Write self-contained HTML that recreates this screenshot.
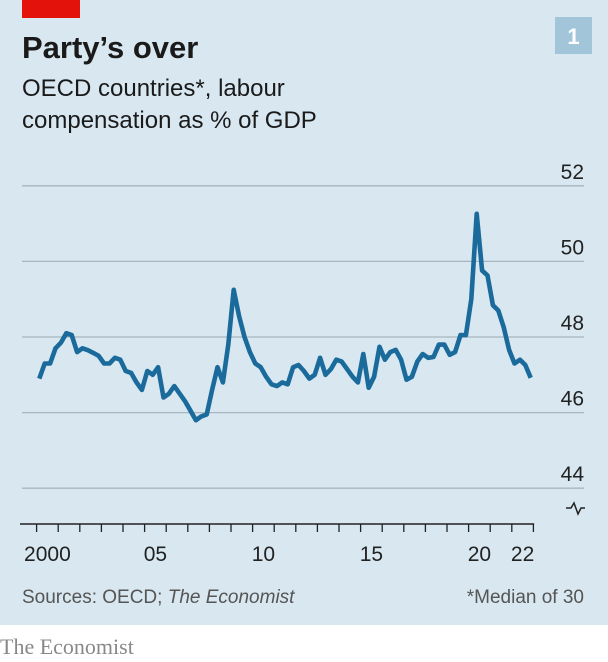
<!DOCTYPE html>
<html><head><meta charset="utf-8">
<style>
html,body{margin:0;padding:0;}
body{width:608px;height:662px;background:#fff;position:relative;overflow:hidden;font-family:"Liberation Sans",sans-serif;}
#panel{position:absolute;left:0;top:0;width:608px;height:625px;background:#d8e7f0;}
</style></head>
<body>
<div id="panel"></div>
<svg id="chart" width="608" height="662" style="position:absolute;left:0;top:0">
  <rect x="22" y="0" width="58" height="18" fill="#e3120b"/>
  <rect x="555" y="17" width="37" height="37" fill="#a3c5da"/>
  <text x="573.5" y="44" text-anchor="middle" font-size="22" font-weight="bold" fill="#fff">1</text>
  <text x="22" y="58" font-size="31" font-weight="bold" fill="#1a1a1a">Party’s over</text>
  <text x="22" y="96" font-size="24" fill="#1a1a1a">OECD countries*, labour</text>
  <text x="22" y="128" font-size="24" fill="#1a1a1a">compensation as % of GDP</text>
  <g id="grid"></g>
  <g id="xaxis"></g>
  <g id="series"></g>
  <path d="M566,508 L571,508 L574,503 L578,514 L581,508 L585,508" fill="none" stroke="#222" stroke-width="1.5"/>
  <text x="22" y="603" font-size="19" fill="#555">Sources: OECD; <tspan font-style="italic">The Economist</tspan></text>
  <text x="584" y="603" text-anchor="end" font-size="19" fill="#555">*Median of 30</text>
  <text x="0" y="654" font-family="Liberation Serif,serif" font-size="22" fill="#888">The Economist</text>
</svg>
<script>
const yTicks = [44, 46, 48, 50, 52];
const xTickYears = [2000,2001,2002,2003,2004,2005,2006,2007,2008,2009,2010,2011,2012,2013,2014,2015,2016,2017,2018,2019,2020,2021,2022,2023];
const xLabelYears = [2000, 2005, 2010, 2015, 2020, 2022];
const xLabels = ["2000", "05", "10", "15", "20", "22"];
const startYear = 2000;
const values = [46.9,47.3,47.3,47.7,47.85,48.1,48.05,47.6,47.7,47.65,47.58,47.5,47.3,47.3,47.45,47.4,47.1,47.05,46.8,46.6,47.1,47.0,47.2,46.4,46.5,46.7,46.5,46.3,46.05,45.8,45.9,45.95,46.6,47.2,46.8,47.8,49.25,48.55,48.0,47.6,47.3,47.2,46.95,46.75,46.7,46.8,46.75,47.2,47.26,47.1,46.9,47.0,47.45,47.0,47.15,47.4,47.35,47.15,46.95,46.8,47.55,46.66,46.95,47.74,47.4,47.6,47.66,47.4,46.87,46.95,47.35,47.55,47.45,47.47,47.8,47.8,47.53,47.6,48.05,48.05,49.0,51.26,49.76,49.63,48.84,48.7,48.26,47.66,47.3,47.4,47.26,46.92];

const NS = "http://www.w3.org/2000/svg";
function xScale(yr){ return 36.6 + (yr - 2000) * 21.6; }
function yScale(v){ return 337 - (v - 48) * 37.8; }
function mk(tag, attrs, parent){ const e = document.createElementNS(NS, tag); for (const k in attrs) e.setAttribute(k, attrs[k]); parent.appendChild(e); return e; }

const grid = document.getElementById('grid');
yTicks.forEach(t => {
  const y = yScale(t);
  const l = mk('line', {x1:22, x2:584, y1:y, y2:y, stroke:'#a9b6bf', 'stroke-width':1.3}, grid);
  
  
  const tx = mk('text', {x:584, y:y-7, 'text-anchor':'end', 'font-size':21, fill:'#222'}, grid);
  tx.textContent = t;
  
  
});

const xa = document.getElementById('xaxis');
const axisY = 524;
const al = mk('line', {x1:20, x2:xScale(2023)+0.7, y1:axisY, y2:axisY, stroke:'#222', 'stroke-width':1.5}, xa);


xTickYears.forEach(yr => {
  const x = xScale(yr);
  const t = mk('line', {x1:x, x2:x, y1:axisY, y2:axisY+8, stroke:'#222', 'stroke-width':1.3}, xa);
  
  
});
xLabelYears.forEach((yr, i) => {
  const t = mk('text', {x:xScale(yr + 0.5), y:561, 'text-anchor':'middle', 'font-size':21, fill:'#222'}, xa);
  t.textContent = xLabels[i];
  
  
});

const s = document.getElementById('series');
const pts = values.map((v, i) => xScale(startYear + (i + 0.5) / 4).toFixed(1) + ',' + yScale(v).toFixed(1));
const line = mk('polyline', {points: pts.join(' '), fill:'none', stroke:'#1a6a9c', 'stroke-width':4.6, 'stroke-linejoin':'round', 'stroke-linecap':'butt'}, s);


</script>
</body></html>
